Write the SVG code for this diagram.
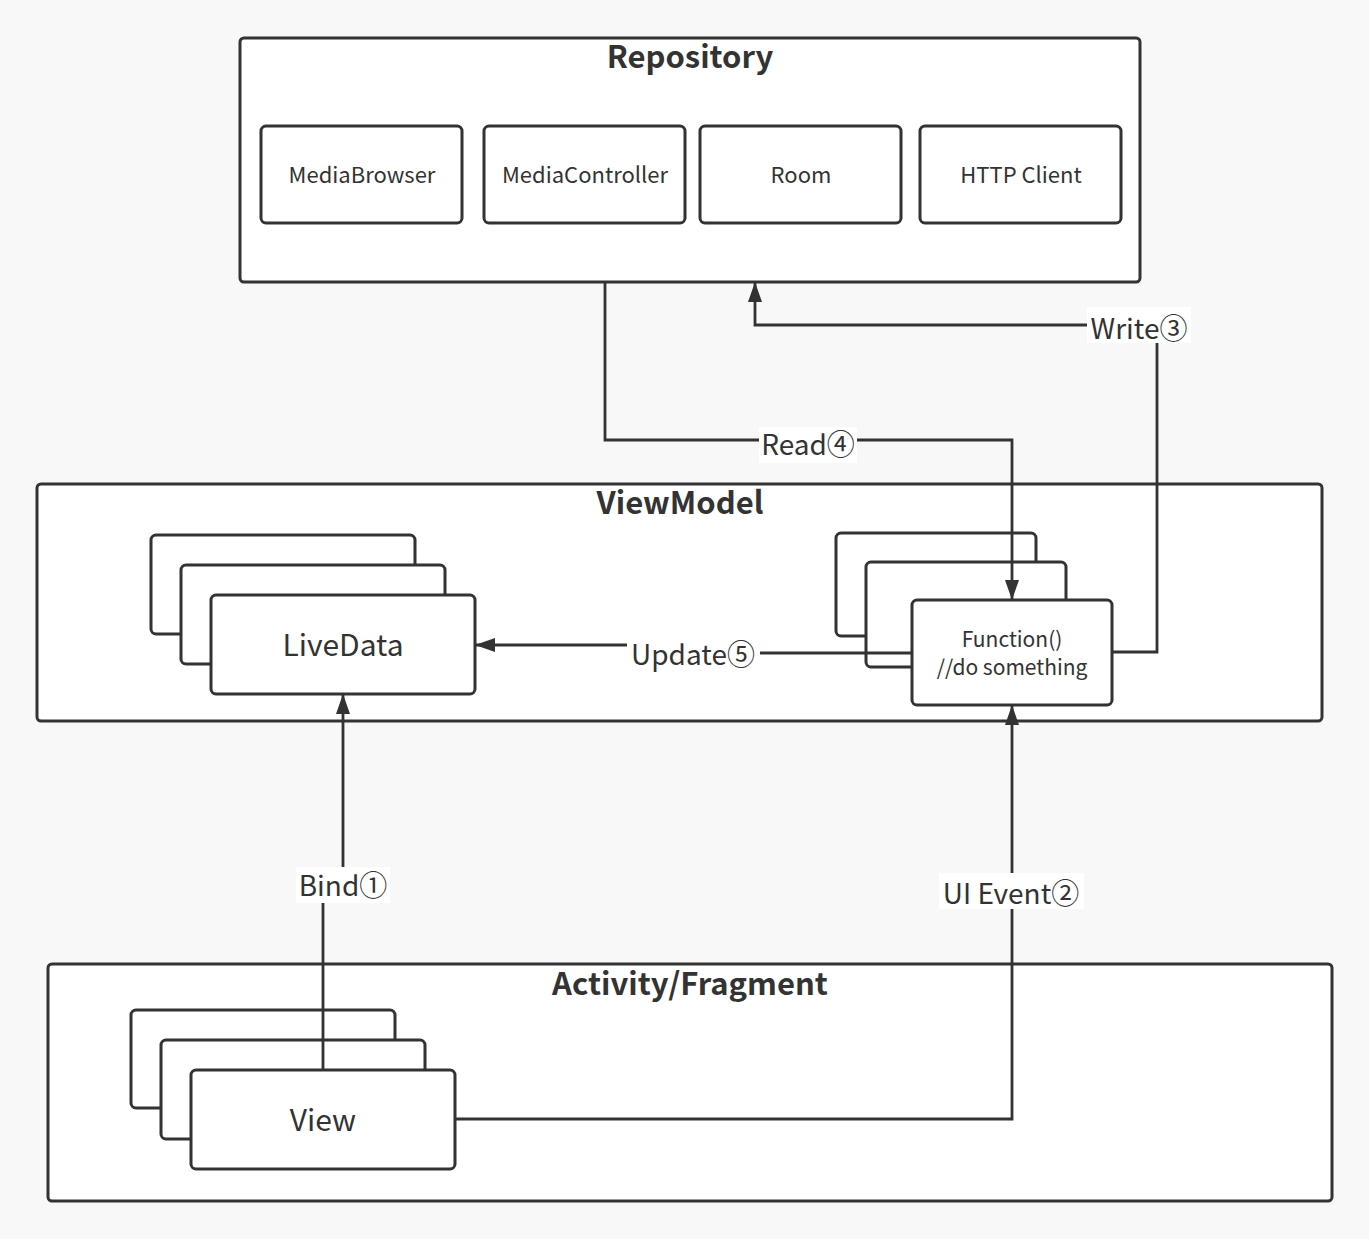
<svg xmlns="http://www.w3.org/2000/svg" width="1369" height="1239" viewBox="0 0 1369 1239">
<defs>
<style>
.box{fill:#fff;stroke:#333;stroke-width:3}
.t{font-family:"Noto Sans CJK SC","Noto Sans",sans-serif;fill:#333;text-anchor:middle}
.title{font-size:31px;font-weight:bold}
.small{font-size:22px}
.fn{font-size:21px}
.big{font-size:30px}
.lbl{font-size:28px}
.conn{fill:none;stroke:#333;stroke-width:2.8}
.lblbg{fill:#fff}
</style>
<marker id="arr" viewBox="0 0 20 14" refX="19" refY="7" markerWidth="20" markerHeight="14" markerUnits="userSpaceOnUse" orient="auto">
<path d="M0,0 L20,7 L0,14 Z" fill="#333"/>
</marker>
</defs>
<rect width="1369" height="1239" fill="#f8f8f8"/>

<g id="repository">
<rect class="box" x="240" y="38" width="900" height="244" rx="4"/>
<text class="t title" x="690" y="68">Repository</text>
</g>
<g id="mediabrowser">
<rect class="box" x="261" y="126" width="201" height="97" rx="5"/>
<text class="t small" x="362" y="183">MediaBrowser</text>
</g>
<g id="mediacontroller">
<rect class="box" x="484" y="126" width="201" height="97" rx="5"/>
<text class="t small" x="585" y="183">MediaController</text>
</g>
<g id="room">
<rect class="box" x="700" y="126" width="201" height="97" rx="5"/>
<text class="t small" x="801" y="183">Room</text>
</g>
<g id="httpclient">
<rect class="box" x="920" y="126" width="201" height="97" rx="5"/>
<text class="t small" x="1021" y="183">HTTP Client</text>
</g>

<g id="viewmodel">
<rect class="box" x="37" y="484" width="1285" height="237" rx="4"/>
<text class="t title" x="680" y="514">ViewModel</text>
</g>
<g id="livedata">
<rect class="box" x="151" y="535" width="264" height="99" rx="5"/>
<rect class="box" x="181" y="565" width="264" height="99" rx="5"/>
<rect class="box" x="211" y="595" width="264" height="99" rx="5"/>
<text class="t big" x="343" y="656">LiveData</text>
</g>
<g id="function">
<rect class="box" x="836" y="533" width="200" height="103" rx="5"/>
<rect class="box" x="866" y="562" width="200" height="105" rx="5"/>
<rect class="box" x="912" y="600" width="200" height="105" rx="5"/>
<text class="t fn" x="1012" y="647">Function()</text>
<text class="t fn" x="1012" y="675">//do something</text>
</g>

<g id="activity">
<rect class="box" x="48" y="964" width="1284" height="237" rx="4"/>
<text class="t title" x="690" y="995">Activity/Fragment</text>
</g>
<g id="view">
<rect class="box" x="131" y="1010" width="264" height="98" rx="5"/>
<rect class="box" x="161" y="1040" width="264" height="99" rx="5"/>
<rect class="box" x="191" y="1070" width="264" height="99" rx="5"/>
<text class="t big" x="323" y="1131">View</text>
</g>

<g id="connectors">
<path class="conn" d="M605,282 V440 H1012 V599" marker-end="url(#arr)"/>
<path class="conn" d="M1112,652 H1157 V325 H755 V283" marker-end="url(#arr)"/>
<path class="conn" d="M912,653 H693 V645 H476" marker-end="url(#arr)"/>
<path class="conn" d="M323,1070 V886 H343 V695" marker-end="url(#arr)"/>
<path class="conn" d="M455,1119 H1012 V706" marker-end="url(#arr)"/>

<rect class="lblbg" x="759" y="427" width="98" height="36"/>
<text class="t lbl" x="808" y="455">Read④</text>
<rect class="lblbg" x="1087" y="307" width="104" height="36"/>
<text class="t lbl" x="1139" y="339">Write③</text>
<rect class="lblbg" x="627" y="637" width="133" height="36"/>
<text class="t lbl" x="693" y="665">Update⑤</text>
<rect class="lblbg" x="296" y="867" width="94" height="36"/>
<text class="t lbl" x="343" y="896">Bind①</text>
<rect class="lblbg" x="939" y="873" width="145" height="36"/>
<text class="t lbl" x="1011" y="904">UI Event②</text>
</g>
</svg>
